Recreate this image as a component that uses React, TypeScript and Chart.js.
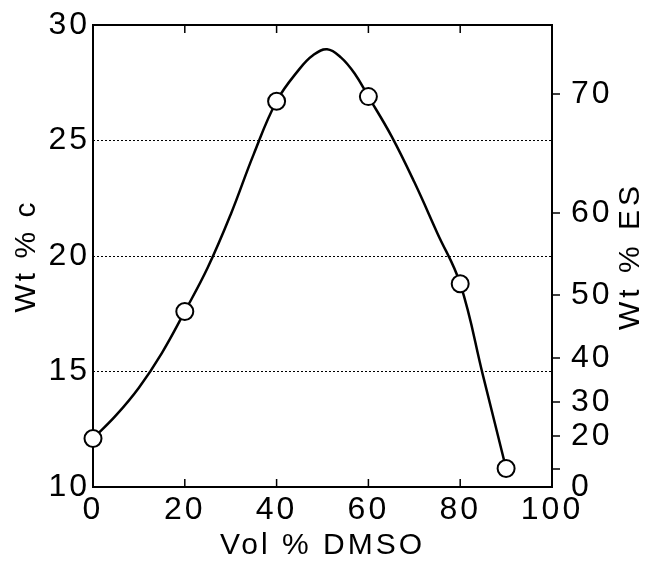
import React, { useEffect, useRef } from 'react';
import { Chart, registerables } from 'chart.js';

Chart.register(...registerables);

// Measured points (Vol % DMSO vs Wt % c)
const dmsoVol = [0, 20, 40, 60, 80, 90];
const wtC = [12.1, 17.6, 26.7, 26.9, 18.8, 10.8];

// Smooth curve
const curveVol = [0, 5, 10, 15, 20, 25, 30, 35, 40, 45, 48, 51, 54, 57, 60, 65, 70, 75, 80, 85, 90];
const curveC = [12.1, 13.1, 14.3, 15.8, 17.6, 19.5, 21.8, 24.4, 26.7, 28.1, 28.7, 28.95, 28.6, 27.9, 26.9, 25.2, 23.2, 21.0, 18.8, 14.8, 10.8];

// Axis ticks
const xTicks = [0, 20, 40, 60, 80, 100];
const leftTicks = [10, 15, 20, 25, 30];
const esTickLabels = ['0', '', '20', '30', '40', '50', '60', '70'];
const esTickAtC = [10.0, 10.78, 12.21, 13.68, 15.58, 18.31, 21.86, 27.01];

const xTitle = 'Vol % DMSO';
const leftTitle = 'Wt % c';
const rightTitle = 'Wt % ES';

const FONT = '"Liberation Sans", Arial, sans-serif';

const framePlugin = {
  id: 'frame',
  beforeUpdate(chart: any) {
    chart.ctx.letterSpacing = '3px';
  },
  beforeDraw(chart: any) {
    chart.ctx.letterSpacing = '3px';
  },
  beforeDatasetsDraw(chart: any) {
    const { ctx, chartArea: a, scales } = chart;
    const x = scales.x;
    const y2 = scales.y2;
    ctx.save();
    ctx.strokeStyle = '#000';
    ctx.lineWidth = 2;
    ctx.strokeRect(a.left, a.top, a.right - a.left, a.bottom - a.top);
    ctx.lineWidth = 1.5;
    ctx.beginPath();
    x.ticks.forEach((t: any) => {
      if (t.value <= x.min || t.value >= x.max) return;
      const px = x.getPixelForValue(t.value);
      ctx.moveTo(px, a.top);
      ctx.lineTo(px, a.top + 8);
      ctx.moveTo(px, a.bottom);
      ctx.lineTo(px, a.bottom - 8);
    });
    y2.ticks.forEach((t: any) => {
      if (t.value <= y2.min) return;
      const py = y2.getPixelForValue(t.value);
      ctx.moveTo(a.right, py);
      ctx.lineTo(a.right + 8, py);
    });
    ctx.stroke();
    ctx.restore();
  },
  afterDraw(chart: any) {
    const { ctx, scales } = chart;
    const y2 = scales.y2;
    ctx.save();
    ctx.translate(y2.right - 15, (y2.top + y2.bottom) / 2);
    ctx.rotate(-Math.PI / 2);
    ctx.font = `30px ${FONT}`;
    ctx.letterSpacing = '4px';
    ctx.textAlign = 'center';
    ctx.textBaseline = 'middle';
    ctx.fillStyle = '#000';
    ctx.fillText(rightTitle, 0, 0);
    ctx.restore();
  },
};

const noPadV = (s: any, w: number) => {
  s.width = w;
  s.paddingTop = 0;
  s.paddingBottom = 0;
};

export default function App() {
  const ref = useRef<HTMLCanvasElement>(null);

  useEffect(() => {
    const chart = new Chart(ref.current as HTMLCanvasElement, {
      type: 'line',
      data: {
        datasets: [
          {
            label: 'points',
            data: dmsoVol.map((v, i) => ({ x: v, y: wtC[i] })),
            showLine: false,
            pointRadius: 8.5,
            pointBackgroundColor: '#fff',
            pointBorderColor: '#000',
            pointBorderWidth: 2,
            clip: false,
            xAxisID: 'x',
            yAxisID: 'y',
          } as any,
          {
            label: 'curve',
            data: curveVol.map((v, i) => ({ x: v, y: curveC[i] })),
            borderColor: '#000',
            borderWidth: 2.5,
            pointRadius: 0,
            fill: false,
            tension: 0.4,
            xAxisID: 'x',
            yAxisID: 'y',
          } as any,
        ],
      },
      options: {
        animation: false,
        responsive: false,
        events: [],
        layout: { padding: { top: 25, left: 0, right: 0, bottom: 0 } },
        plugins: { legend: { display: false }, tooltip: { enabled: false } },
        scales: {
          x: {
            type: 'linear',
            position: 'bottom',
            min: 0,
            max: 100,
            afterBuildTicks: (s: any) => {
              s.ticks = xTicks.map((v) => ({ value: v }));
            },
            grid: { display: false, drawTicks: false },
            border: { display: false },
            ticks: { padding: 4, color: '#000', font: { family: FONT, size: 32 }, maxRotation: 0, autoSkip: false },
            title: {
              display: true,
              text: xTitle,
              color: '#000',
              font: { family: FONT, size: 30, lineHeight: 1 },
              padding: { top: 0, bottom: 0 },
            },
            afterFit: (s: any) => {
              s.height = 74;
              s.paddingLeft = 0;
              s.paddingRight = 0;
            },
          },
          y: {
            position: 'left',
            min: 10,
            max: 30,
            afterBuildTicks: (s: any) => {
              s.ticks = leftTicks.map((v) => ({ value: v }));
            },
            grid: {
              color: (c: any) => (c.tick && (c.tick.value === 10 || c.tick.value === 30) ? 'rgba(0,0,0,0)' : '#000'),
              lineWidth: 1,
              drawTicks: false,
            },
            border: { display: false, dash: [2, 2] },
            ticks: { padding: 3, color: '#000', font: { family: FONT, size: 32 }, autoSkip: false },
            title: {
              display: true,
              text: leftTitle,
              color: '#000',
              font: { family: FONT, size: 30, lineHeight: 1 },
              padding: { top: 12, bottom: 0 },
            },
            afterFit: (s: any) => noPadV(s, 93),
          },
          y2: {
            position: 'right',
            min: 10,
            max: 30,
            afterBuildTicks: (s: any) => {
              s.ticks = esTickAtC.map((v) => ({ value: v }));
            },
            grid: { display: false, drawTicks: false },
            border: { display: false },
            ticks: {
              padding: 19,
              color: '#000',
              font: { family: FONT, size: 32 },
              autoSkip: false,
              callback: (_v: any, i: number) => esTickLabels[i],
            },
            afterFit: (s: any) => noPadV(s, 94),
          },
        },
      } as any,
      plugins: [framePlugin],
    });
    return () => chart.destroy();
  }, []);

  return (
    <div style={{ position: 'fixed', left: 0, top: 0, width: 646, height: 561, background: '#fff' }}>
      <canvas ref={ref} width={646} height={561} style={{ display: 'block' }} />
    </div>
  );
}
